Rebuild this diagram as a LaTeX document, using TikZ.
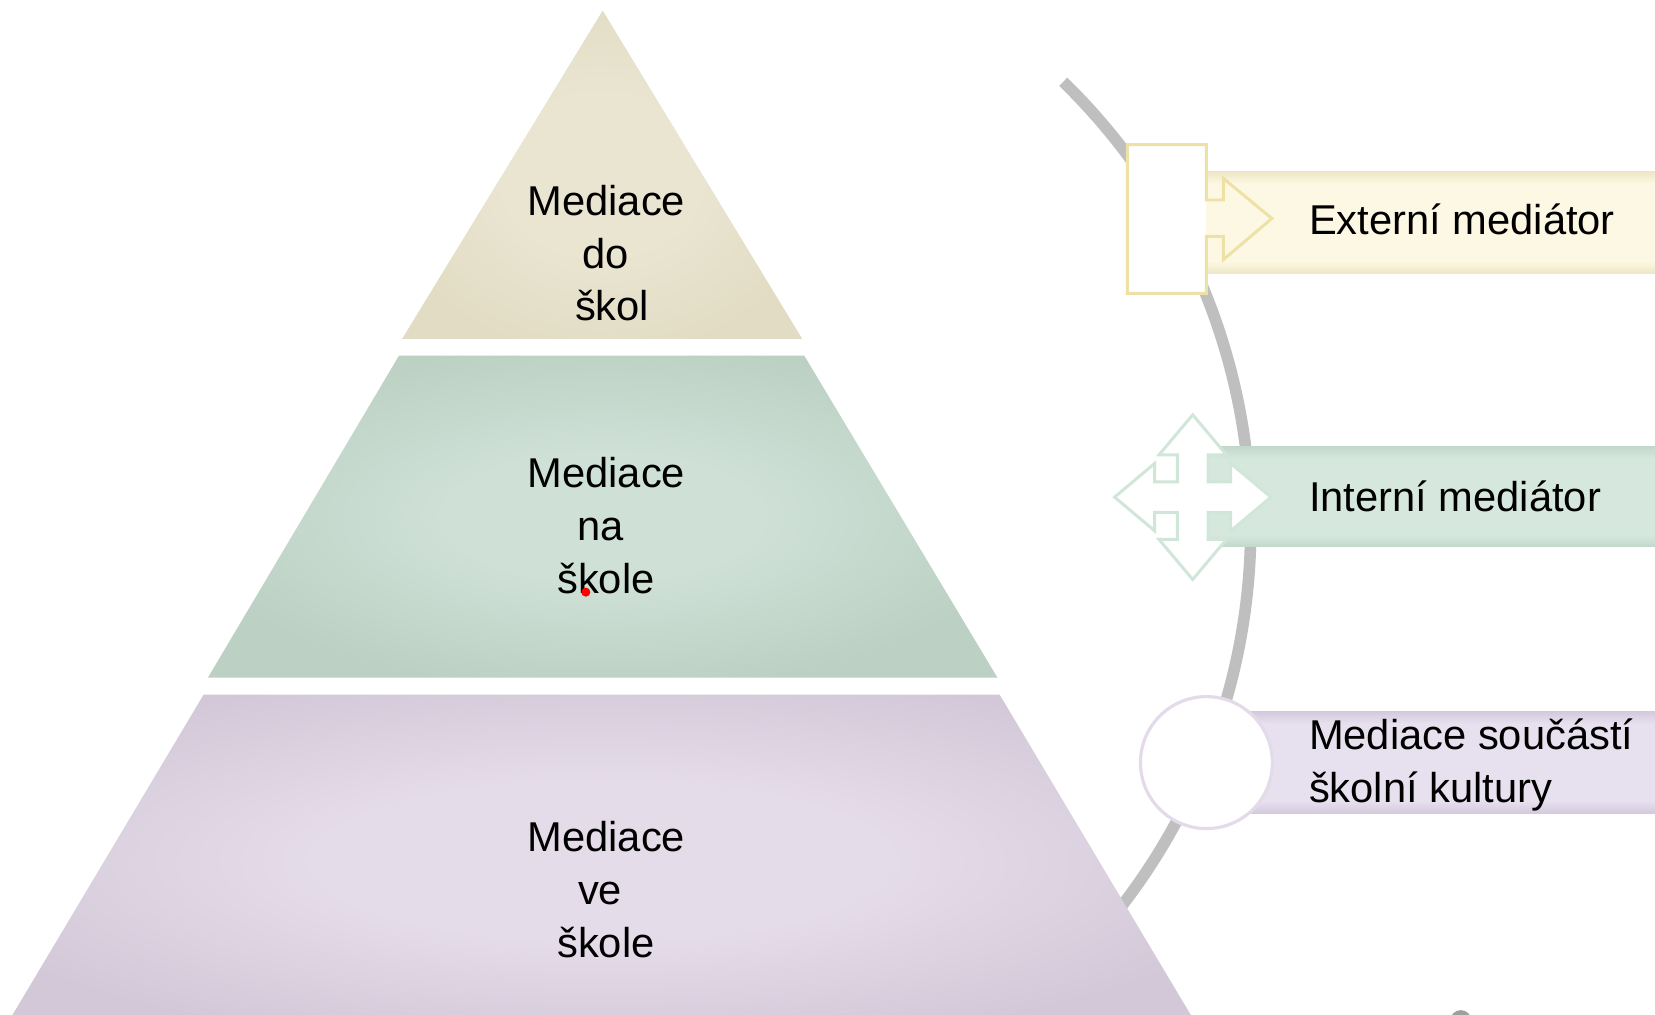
\documentclass[tikz,border=0pt]{standalone}
\usepackage{fontspec}
\setmainfont{Liberation Sans}
\definecolor{arcgray}{HTML}{BFBFBF}
\definecolor{topin}{HTML}{EAE5D1}
\definecolor{topout}{HTML}{E2DCC4}
\definecolor{midin}{HTML}{CFE1D7}
\definecolor{midout}{HTML}{BCD0C3}
\definecolor{botin}{HTML}{E5DCEA}
\definecolor{botout}{HTML}{D2C8D7}
\definecolor{bandAm}{HTML}{FDF8E3}
\definecolor{bandAe}{HTML}{EEE7C6}
\definecolor{bandBm}{HTML}{D6E8DE}
\definecolor{bandBe}{HTML}{C3D8CB}
\definecolor{bandCm}{HTML}{E7E0EE}
\definecolor{bandCe}{HTML}{D4C9DD}
\definecolor{icoA}{HTML}{EDE1A6}
\definecolor{icoB}{HTML}{D0E6D9}
\definecolor{icoC}{HTML}{E3DAEA}
\pgfdeclareverticalshading{bandshA}{100bp}{color(0bp)=(bandAe); color(25bp)=(bandAe); color(31bp)=(bandAm); color(69bp)=(bandAm); color(75bp)=(bandAe); color(100bp)=(bandAe)}
\pgfdeclareverticalshading{bandshB}{100bp}{color(0bp)=(bandBe); color(25bp)=(bandBe); color(31bp)=(bandBm); color(69bp)=(bandBm); color(75bp)=(bandBe); color(100bp)=(bandBe)}
\pgfdeclareverticalshading{bandshC}{100bp}{color(0bp)=(bandCe); color(25bp)=(bandCe); color(31bp)=(bandCm); color(69bp)=(bandCm); color(75bp)=(bandCe); color(100bp)=(bandCe)}
\pgfdeclareradialshading{pyrshT}{\pgfpoint{0bp}{0bp}}{color(0bp)=(topin); color(12bp)=(topin); color(28bp)=(topout); color(50bp)=(topout)}
\pgfdeclareradialshading{pyrshM}{\pgfpoint{0bp}{0bp}}{color(0bp)=(midin); color(10bp)=(midin); color(27bp)=(midout); color(50bp)=(midout)}
\pgfdeclareradialshading{pyrshB}{\pgfpoint{0bp}{0bp}}{color(0bp)=(botin); color(12bp)=(botin); color(29bp)=(botout); color(50bp)=(botout)}
\tikzset{
  lbl/.style={inner sep=0pt, font=\fontsize{39.5}{50}\selectfont, anchor=base, text=black},
  lblw/.style={lbl, anchor=base west},
  icoline/.style={line width=2.8pt, line join=miter}
}
\begin{document}
\begin{tikzpicture}[x=1pt,y=-1pt]
\useasboundingbox (0,0) rectangle (1568,961);
\clip (0,0) rectangle (1568,961);
\fill[white] (0,0) rectangle (1568,961);
% arc
\coordinate (arcc) at (596,499);
\draw[arcgray, line width=11pt] (arcc) ++(-45.7:589) arc[start angle=-45.7, end angle=42, radius=589];
% bands
\shade[shading=bandshA] (1110,162.7) rectangle (1600,259);
\shade[shading=bandshB] (1130,423) rectangle (1600,518);
\shade[shading=bandshC] (1143,674) rectangle (1600,770.6);
% icon 1: rectangle with arrow
\fill[white] (1068,137) rectangle (1143,278);
\draw[icoA, icoline] (1068,137) -- (1143,137) -- (1143,189.5) -- (1159,189.5) -- (1159,169) -- (1205,207)
  -- (1159,246) -- (1159,224) -- (1143,224) -- (1143,278) -- (1068,278) -- cycle;
% icon 2: quad arrow
\begin{scope}[shift={(1130,471)}]
\filldraw[fill=white, draw=icoB, icoline]
  (0,-78) -- (32,-40) -- (14.5,-40) -- (14.5,-14.5) -- (36,-14.5) -- (36,-32) -- (74,0)
  -- (36,32) -- (36,14.5) -- (14.5,14.5) -- (14.5,40) -- (32,40) -- (0,78)
  -- (-32,40) -- (-14.5,40) -- (-14.5,14.5) -- (-36,14.5) -- (-36,32) -- (-74,0)
  -- (-36,-32) -- (-36,-14.5) -- (-14.5,-14.5) -- (-14.5,-40) -- (-32,-40) -- cycle;
\end{scope}
% icon 3: circle
\filldraw[fill=white, draw=icoC, line width=3pt] (1143,722.5) circle (62.5);
% pyramid
\shade[shading=pyrshT] (571,10) -- (760,321) -- (381,321) -- cycle;
\shade[shading=pyrshM] (378,337) -- (762,337) -- (945,642) -- (197,642) -- cycle;
\shade[shading=pyrshB] (193,658) -- (947,658) -- (1135,973) -- (5,973) -- cycle;
% pyramid texts
\node[lbl] (t1) at (574.5,204) {Mediace};
\node[lbl] (t2) at (574,254) {do};
\node[lbl] (t3) at (580,304) {škol};
\node[lbl] (m1) at (574.5,462) {Mediace};
\node[lbl] (m2) at (569,512) {na};
\node[lbl] (m3) at (574,562) {škole};
\node[lbl] (b1) at (574.5,807) {Mediace};
\node[lbl] (b2) at (568.5,857) {ve};
\node[lbl] (b3) at (574,907) {škole};
% right texts
\node[lblw] (ra) at (1240,222) {Externí mediátor};
\node[lblw] (rb) at (1240,485) {Interní mediátor};
\node[lblw] (rc1) at (1240,710) {Mediace součástí};
\node[lblw] (rc2) at (1240,760) {školní kultury};
% small marks
\fill[red] (555,561) circle (4.3);
\fill[gray!75] (1384,967) circle (10);
\end{tikzpicture}
\end{document}
